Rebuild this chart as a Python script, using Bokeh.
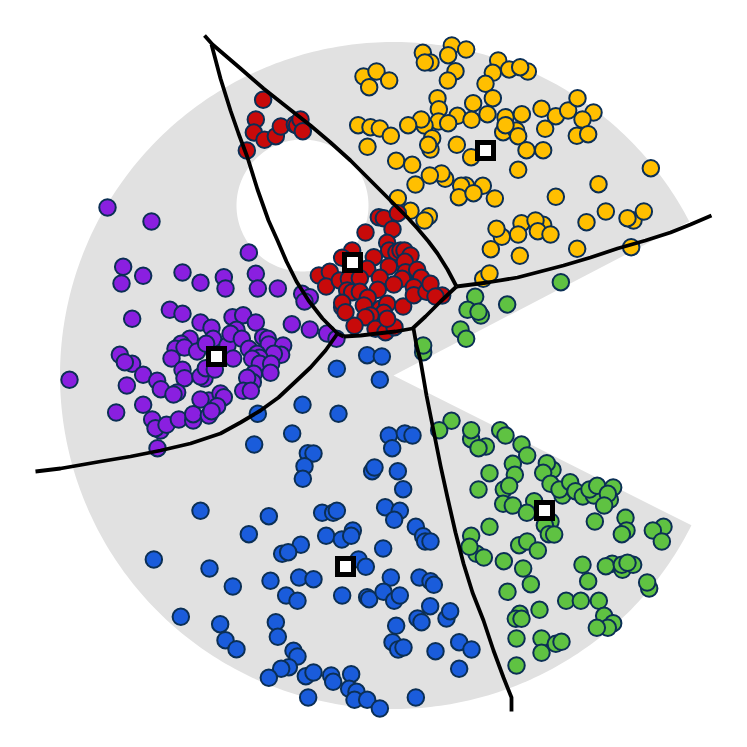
from bokeh.plotting import figure
from bokeh.models import Range1d
from bokeh.embed import file_html
from bokeh.resources import INLINE
import numpy as np

# Points, in 3x crop units, each with the crop's origin
blue_origin = (140, 350)
blue_pts = [(589,55),(680,14),(724,18),(718,88),(486,163),(594,190),(352,190),(455,249),(341,282),(745,255),(793,249),(816,255),(755,293),(502,308),(519,309),(492,347),(487,385),(695,362),(702,351),(772,362),(788,416),(180,481),(385,497),(325,551),(545,487),(578,487),(589,481),(734,470),(778,481),(761,508),(826,529),(848,557),(854,573),(870,573),(557,556),(604,567),(637,540),(632,556),(728,594),(481,583),(425,610),(443,605),(40,627),(207,654),(654,627),(676,649),(277,708),(390,691),(476,681),(519,686),(751,681),(837,681),(870,692),(880,703),(437,735),(471,751),(605,735),(680,740),(686,746),(729,724),(761,751),(778,735),(869,767),(121,799),(239,821),(406,815),(831,804),(843,815),(918,804),(929,782),(767,826),(412,859),(255,869),(288,896),(756,875),(773,897),(789,891),(885,902),(956,875),(459,901),(471,918),(445,950),(422,955),(385,982),(496,977),(519,966),(572,975),(578,994),(632,971),(626,1015),(648,1024),(642,1048),(680,1048),(718,1074),(503,1041),(826,1041),(956,955),(993,897)]

purple_origin = (60, 240)
purple_pts = [(141,-99),(273,-57),(565,36),(188,79),(183,129),(248,106),(366,96),(420,127),(490,110),(495,144),(586,100),(592,144),(652,144),(215,235),(328,208),(366,220),(420,246),(453,262),(516,230),(548,224),(586,246),(694,251),(748,267),(800,279),(828,295),(725,160),(748,170),(732,183),(388,295),(362,310),(345,325),(372,321),(410,333),(333,354),(458,295),(437,310),(501,315),(528,268),(510,280),(544,295),(608,290),(622,295),(625,312),(668,315),(662,343),(640,340),(565,325),(590,340),(597,352),(575,355),(598,370),(632,370),(518,354),(178,343),(215,370),(193,365),(248,403),(290,421),(301,446),(366,388),(372,413),(350,456),(339,462),(27,418),(199,435),(432,414),(420,408),(436,383),(463,387),(630,397),(580,400),(577,425),(560,412),(548,451),(571,451),(248,493),(167,516),(275,537),(300,570),(285,563),(318,553),(355,537),(398,540),(398,521),(445,480),(420,477),(480,459),(490,470),(470,497),(445,525),(453,512),(291,623)]

red_origin = (290, 200)
red_pts = [(225,96),(265,50),(280,53),(322,38),(306,86),(290,127),(296,150),(318,155),(330,150),(342,150),(360,165),(343,184),(250,170),(185,150),(155,172),(230,205),(295,198),(345,215),(380,208),(392,232),(335,235),(268,232),(310,252),(262,268),(85,225),(118,214),(107,258),(148,240),(175,235),(208,233),(170,270),(185,275),(208,274),(232,292),(155,320),(155,307),(165,335),(220,315),(270,325),(290,310),(280,337),(240,345),(225,350),(338,318),(370,260),(370,284),(408,274),(420,250),(455,285),(435,288),(192,376),(255,385),(285,395),(312,380),(290,355)]
red_top_origin = (200, 20)
red_top_pts = [(188,238),(166,297),(160,336),(192,358),(226,347),(241,318),(283,312),(290,315),(300,297),(307,332),(139,390)]

yellow_origin = (350, 30)
yellow_pts = [(304,45),(347,57),(217,67),(240,96),(223,96),(293,74),(443,90),(476,117),(532,123),(509,110),(427,127),(405,160),(315,122),(292,150),(39,138),(78,123),(116,150),(56,170),(261,203),(265,236),(368,218),(427,203),(321,256),(363,268),(411,251),(264,273),(293,278),(222,285),(212,267),(173,284),(23,284),(60,290),(88,294),(121,316),(465,260),(458,305),(497,300),(503,317),(465,284),(514,251),(573,235),(616,257),(653,240),(681,203),(729,246),(696,267),(584,295),(679,316),(713,311),(51,349),(245,323),(240,357),(233,343),(319,343),(362,380),(528,359),(578,359),(503,418),(137,391),(185,403),(284,445),(273,429),(238,435),(195,462),(346,465),(332,466),(397,466),(325,500),(369,488),(433,504),(616,499),(744,461),(901,413),(142,503),(180,541),(235,557),(222,570),(454,619),(438,595),(513,578),(503,612),(578,583),(555,570),(562,602),(600,612),(421,656),(508,676),(680,655),(708,575),(766,543),(849,570),(831,563),(880,543),(842,650),(398,745),(417,729)]

green_origin = (420, 280)
green_pts = [(164,49),(181,105),(141,88),(174,94),(260,72),(421,5),(120,147),(137,175),(8,215),(8,195),(93,421),(56,449),(152,476),(152,449),(196,498),(174,503),(239,449),(255,465),(303,492),(320,525),(277,550),(283,583),(207,578),(174,627),(250,627),(266,616),(248,670),(277,675),(341,662),(319,697),(396,568),(379,548),(368,577),(390,610),(426,645),(417,627),(449,605),(465,632),(487,648),(520,645),(507,627),(530,616),(578,621),(568,658),(562,640),(551,675),(615,712),(523,723),(618,750),(604,761),(729,739),(697,750),(724,783),(207,739),(152,766),(168,820),(147,799),(190,831),(250,842),(296,794),(320,783),(352,810),(308,864),(390,723),(373,734),(385,761),(401,762),(486,853),(575,850),(556,857),(606,868),(638,853),(604,853),(621,847),(503,902),(686,924),(680,906),(331,911),(261,934),(437,961),(481,961),(535,961),(357,988),(298,1000),(286,1015),(303,1015),(551,1006),(578,1028),(562,1042),(529,1042),(288,1074),(363,1074),(363,1117),(406,1090),(423,1084),(288,1155)]

# Centroids
centroid_x = [485, 352, 216, 544, 345]
centroid_y = [150, 262, 356, 510, 566]

# Boundaries
edge_top_x = [204,212,240,263,287,310,330,350,372,393,406,417,428,437,447,456]
edge_top_y = [35,44,68,88,107,125,142,160,182,203,216,228,241,253,269,286]
edge_left_x = [211,220,230,238,247,257,268,277,286,296,308,322,337,343]
edge_left_y = [44,78,110,133,157,189,220,240,261,281,300,318,333,336]
edge_inner_x = [343,360,377,395,412,425,440,456]
edge_inner_y = [336,335,333,331,328,316,301,286]
edge_right_x = [456,487,517,540,563,590,617,645,670,690,711]
edge_right_y = [286,282,277,271,265,257,248,240,232,224,215]
edge_low_left_x = [337,325,310,293,278,260,240,220,190,160,130,100,60,35]
edge_low_left_y = [333,350,367,383,397,410,422,433,443,450,456,461,468,471]
edge_low_x = [413,416,420,426,433,440,447,455,463,472,483,493,503,511,511]
edge_low_y = [328,345,360,395,430,465,497,532,563,592,620,650,677,697,711]

# Grey region
disc_cx, disc_cy, disc_r = 393, 375, 333.5
cut_up_deg, cut_down_deg = 27.5, 26.7
hole_cx, hole_cy, hole_r = 302, 205, 66

GREY = "#E1E1E1"
EDGE = "#0B2F55"
YELLOW = "#FFBF00"
RED = "#C80A0A"
PURPLE = "#8A1FE0"
BLUE = "#1A5CDB"
GREEN = "#5FC242"

p = figure(width=731, height=731, output_backend="svg", toolbar_location=None,
           x_range=Range1d(0, 731), y_range=Range1d(731, 0), min_border=0)
p.axis.visible = False
p.grid.visible = False
p.outline_line_color = None
p.background_fill_color = "white"

t = np.radians(np.linspace(cut_down_deg, 360 - cut_up_deg, 361))
dx = np.r_[disc_cx, disc_cx + disc_r * np.cos(t)]
dy = np.r_[disc_cy, disc_cy + disc_r * np.sin(t)]
h = np.linspace(0, 2 * np.pi, 181)
hx = hole_cx + hole_r * np.cos(h)
hy = hole_cy + hole_r * np.sin(h)
p.multi_polygons(xs=[[[list(dx), list(hx)]]], ys=[[[list(dy), list(hy)]]],
                 fill_color=GREY, line_color=None)

def draw(points, origin, color):
    xs = [a / 3 + origin[0] for a, b in points]
    ys = [b / 3 + origin[1] for a, b in points]
    p.scatter(xs, ys, size=16.5, fill_color=color, line_color=EDGE, line_width=2)

draw(yellow_pts, yellow_origin, YELLOW)
draw(green_pts, green_origin, GREEN)
draw(blue_pts, blue_origin, BLUE)
draw(purple_pts, purple_origin, PURPLE)
draw(red_pts, red_origin, RED)
draw(red_top_pts, red_top_origin, RED)

p.multi_line(
    xs=[edge_top_x, edge_left_x, edge_inner_x, edge_right_x, edge_low_left_x, edge_low_x],
    ys=[edge_top_y, edge_left_y, edge_inner_y, edge_right_y, edge_low_left_y, edge_low_y],
    line_color="black", line_width=3.8, line_join="round")

p.scatter(centroid_x, centroid_y, marker="square", size=16, fill_color="white",
          line_color="black", line_width=5, line_join="miter")

open("out.html", "w").write(file_html(p, INLINE))
